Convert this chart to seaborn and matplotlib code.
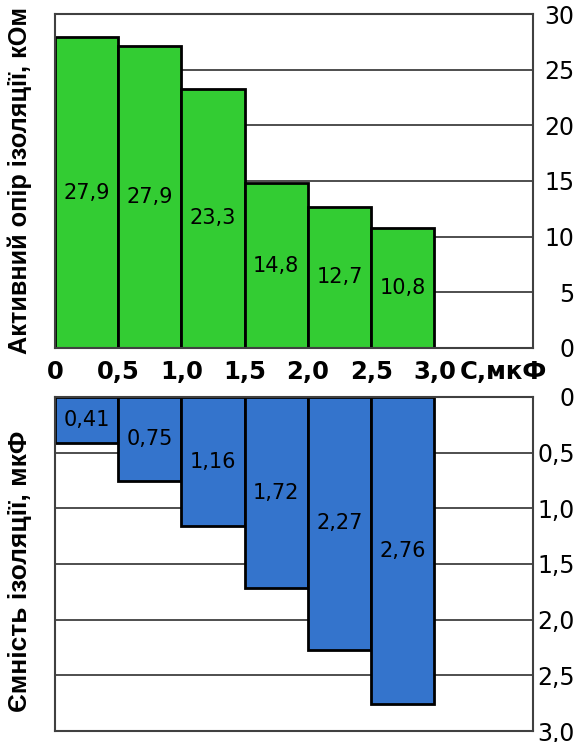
import matplotlib.pyplot as plt
import numpy as np
import seaborn as sns

sns.set_theme(style='white')
plt.rcParams['font.family'] = ['DejaVu Sans']
plt.rcParams['text.color'] = 'black'
plt.rcParams['axes.labelcolor'] = 'black'
plt.rcParams['xtick.color'] = 'black'
plt.rcParams['ytick.color'] = 'black'

# C, мкФ: interval edges and tick labels
edges = [0, 0.5, 1.0, 1.5, 2.0, 2.5, 3.0]
x_ticklabels = ['0', '0,5', '1,0', '1,5', '2,0', '2,5', '3,0']

# top panel: активний опір, кОм
resistance = [27.9, 27.1, 23.3, 14.8, 12.7, 10.8]
resistance_labels = ['27,9', '27,9', '23,3', '14,8', '12,7', '10,8']
r_ticks = [0, 5, 10, 15, 20, 25, 30]
r_ticklabels = ['0', '5', '10', '15', '20', '25', '30']

# bottom panel: ємність, мкФ
capacitance = [0.41, 0.75, 1.16, 1.72, 2.27, 2.76]
capacitance_labels = ['0,41', '0,75', '1,16', '1,72', '2,27', '2,76']
c_ticks = [0, 0.5, 1.0, 1.5, 2.0, 2.5, 3.0]
c_ticklabels = ['0', '0,5', '1,0', '1,5', '2,0', '2,5', '3,0']

GREEN = '#33cc33'
BLUE = '#3474cc'
LINE = '#404040'
W, H = 579, 742

mids = (np.array(edges[:-1]) + np.array(edges[1:])) / 2

fig = plt.figure(figsize=(W / 100, H / 100), dpi=100)
ax1 = fig.add_axes([55 / W, 1 - 348 / H, 478 / W, 334 / H])
ax2 = fig.add_axes([55 / W, 1 - 731 / H, 478 / W, 334 / H])


def style_axes(ax, ticks, ticklabels):
    ax.set_xlim(0, 3.78)
    ax.set_yticks(ticks)
    ax.set_yticklabels(ticklabels)
    ax.yaxis.tick_right()
    ax.tick_params(axis='y', length=0, pad=30, labelsize=17)
    for lbl in ax.get_yticklabels():
        lbl.set_ha('right')
    ax.yaxis.grid(True, color=LINE, linewidth=1.3)
    ax.xaxis.grid(False)
    ax.set_axisbelow(True)
    for sp in ax.spines.values():
        sp.set_color(LINE)
        sp.set_linewidth(1.5)


# top: resistance histogram-like bars
sns.histplot(x=mids, weights=resistance, bins=edges, ax=ax1,
             color=GREEN, edgecolor='black', linewidth=2, alpha=1)
ax1.set_ylim(0, 30)
style_axes(ax1, r_ticks, r_ticklabels)
ax1.set_xticks(edges)
ax1.set_xticklabels(x_ticklabels, fontsize=17.5, fontweight='bold')
ax1.tick_params(axis='x', length=0, pad=9)
ax1.set_xlabel('')
ax1.annotate('С,мкФ', xy=(edges[-1], 0), xycoords=('data', 'axes fraction'),
             xytext=(18, -9), textcoords='offset points', ha='left', va='top',
             fontsize=17.5, fontweight='bold')
ax1.set_ylabel('Активний опір ізоляції, кОм', fontsize=18.2, fontweight='bold',
               family=['Liberation Sans', 'DejaVu Sans'])
ax1.yaxis.set_label_position('left')
ax1.yaxis.set_label_coords(-0.048, 0.5)
ax1.bar_label(ax1.containers[0], labels=resistance_labels,
              label_type='center', fontsize=15)

# bottom: capacitance bars hanging down
sns.histplot(x=mids, weights=capacitance, bins=edges, ax=ax2,
             color=BLUE, edgecolor='black', linewidth=2, alpha=1)
ax2.set_ylim(3.0, 0)
style_axes(ax2, c_ticks, c_ticklabels)
ax2.set_xticks([])
ax2.set_xlabel('')
ax2.set_ylabel('Ємність ізоляції, мкФ', fontsize=19, fontweight='bold',
               family=['Liberation Sans', 'DejaVu Sans'])
ax2.yaxis.set_label_position('left')
ax2.yaxis.set_label_coords(-0.048, 0.477)
ax2.bar_label(ax2.containers[0], labels=capacitance_labels,
              label_type='center', fontsize=15)

fig.savefig('out.png', dpi=100)
